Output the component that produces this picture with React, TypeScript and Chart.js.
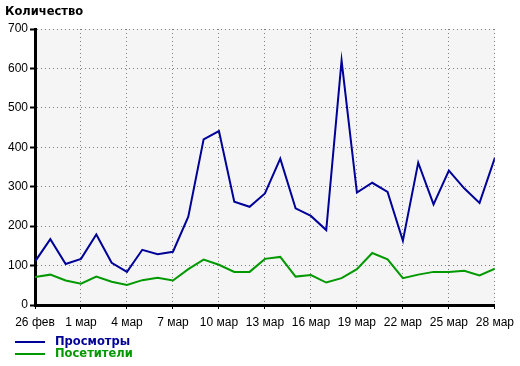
import React, { useEffect, useRef } from "react";
import { Chart, registerables } from "chart.js";

Chart.register(...registerables);

const days: string[] = [
  "26 фев", "27 фев", "28 фев",
  "1 мар", "2 мар", "3 мар", "4 мар", "5 мар", "6 мар", "7 мар", "8 мар", "9 мар", "10 мар",
  "11 мар", "12 мар", "13 мар", "14 мар", "15 мар", "16 мар", "17 мар", "18 мар", "19 мар",
  "20 мар", "21 мар", "22 мар", "23 мар", "24 мар", "25 мар", "26 мар", "27 мар", "28 мар",
];

const views: number[] = [
  110, 167, 104, 117, 179, 107, 84, 140, 129, 135, 224, 420, 441, 262, 249, 283,
  371, 245, 226, 190, 620, 285, 310, 287, 163, 361, 255, 341, 296, 259, 373,
];

const visitors: number[] = [
  71, 77, 62, 54, 72, 59, 51, 63, 69, 62, 91, 115, 102, 84, 84, 117,
  122, 72, 76, 57, 68, 91, 132, 116, 68, 77, 84, 84, 87, 75, 92,
];

const seriesNames: string[] = ["Просмотры", "Посетители"];
const seriesColors: string[] = ["#000099", "#009900"];
const titleText = "Количество";

const overlayPlugin = {
  id: "overlay",
  beforeDraw(chart: any) {
    const { ctx, chartArea } = chart;
    ctx.save();
    ctx.fillStyle = "#f5f5f5";
    ctx.fillRect(chartArea.left, chartArea.top, chartArea.right - chartArea.left, chartArea.bottom - chartArea.top);
    ctx.restore();
  },
  afterDraw(chart: any) {
    const { ctx } = chart;
    ctx.save();
    ctx.fillStyle = "#000";
    ctx.font = "bold 11.5px 'DejaVu Sans'";
    ctx.textBaseline = "middle";
    ctx.textAlign = "left";
    ctx.fillText(titleText, 5, 12);
    seriesNames.forEach((name, i) => {
      const y = 342 + i * 12;
      ctx.strokeStyle = seriesColors[i];
      ctx.lineWidth = 2;
      ctx.beginPath();
      ctx.moveTo(15, y);
      ctx.lineTo(45, y);
      ctx.stroke();
      ctx.fillStyle = seriesColors[i];
      ctx.font = "bold 11.5px 'DejaVu Sans'";
      ctx.fillText(name, 55, y);
    });
    ctx.restore();
  },
};

export default function App() {
  const ref = useRef<HTMLCanvasElement | null>(null);
  useEffect(() => {
    document.body.style.margin = "0";
    if (!ref.current) return;
    const chart = new Chart(ref.current, {
      type: "line",
      data: {
        datasets: [
          {
            label: seriesNames[0],
            data: views.map((v, i) => ({ x: i, y: v })),
            borderColor: seriesColors[0],
            borderWidth: 2,
            pointRadius: 0,
            tension: 0,
          },
          {
            label: seriesNames[1],
            data: visitors.map((v, i) => ({ x: i, y: v })),
            borderColor: seriesColors[1],
            borderWidth: 2,
            pointRadius: 0,
            tension: 0,
          },
        ],
      },
      options: {
        animation: false,
        responsive: false,
        layout: { padding: { top: 29, right: 25, bottom: 31, left: 0 } },
        plugins: { legend: { display: false }, tooltip: { enabled: false } },
        scales: {
          x: {
            type: "linear",
            min: 0,
            max: 30,
            afterBuildTicks: (scale: any) => {
              const t = [];
              for (let i = 0; i <= 30; i += 3) t.push({ value: i });
              scale.ticks = t;
            },
            afterFit: (scale: any) => {
              scale.height = 30;
            },
            ticks: {
              autoSkip: false,
              maxRotation: 0,
              color: "#000",
              padding: 6,
              font: { family: "'Liberation Sans'", size: 12 },
              callback: (v: any) => days[v] ?? "",
            },
            grid: {
              color: "#808080",
              tickColor: "#000",
              tickLength: 4,
              tickWidth: 1,
              tickBorderDash: [],
            } as any,
            border: { color: "#000", width: 3, dash: [1, 3] },
          },
          y: {
            min: 0,
            max: 700,
            afterFit: (scale: any) => {
              scale.width = 35;
            },
            ticks: {
              stepSize: 100,
              color: "#000",
              padding: 2,
              font: { family: "'Liberation Sans'", size: 12 },
            },
            grid: {
              color: "#808080",
              tickColor: "#000",
              tickLength: 5,
              tickWidth: 2,
              tickBorderDash: [],
            } as any,
            border: { color: "#000", width: 3, dash: [1, 3] },
          },
        },
      },
      plugins: [overlayPlugin],
    });
    return () => chart.destroy();
  }, []);
  return <canvas ref={ref} width={520} height={366} style={{ display: "block" }} />;
}
